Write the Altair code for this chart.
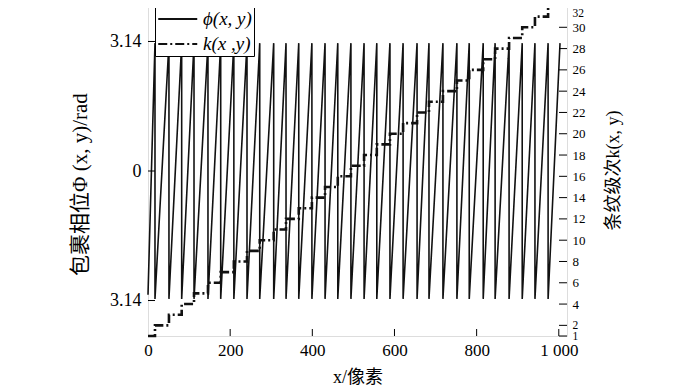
import altair as alt
import pandas as pd

# ---- data ----
# x positions (pixel index) where the wrapped phase drops from +pi to -pi
drop_x = [17, 51, 82, 112, 146, 177, 209, 241, 272, 306, 336, 367, 399, 431, 462,
          494, 526, 557, 589, 621, 655, 684, 718, 752, 782, 816, 845, 879, 911, 942, 974]
phase_top = 3.1
phase_bottom = -3.1
phase_start = [0, -3.0]     # x, phase at the left edge
phase_end = [1003, 3.1]     # x, phase at the right end
k_start = 1
k_end_x = 1003

x_labels = [0, 200, 400, 600, 800, 1000]
x_ticks = [200, 400, 600, 800, 1000]
left_ticks = [-3.14, 0, 3.14]
right_ticks = [1, 2, 4, 6, 8, 10, 12, 14, 16, 18, 20, 22, 24, 26, 28, 30, 32]

PHI = "ϕ(x, y)"
KLAB = "k(x ,y)"

# ---- build tables ----
rows = []
o = 0
rows.append(dict(x=phase_start[0], v=phase_start[1], series=PHI, o=o)); o += 1
for d in drop_x:
    rows.append(dict(x=d, v=phase_top, series=PHI, o=o)); o += 1
    rows.append(dict(x=d, v=phase_bottom, series=PHI, o=o)); o += 1
rows.append(dict(x=phase_end[0], v=phase_end[1], series=PHI, o=o)); o += 1

k = k_start
rows.append(dict(x=0, v=k, series=KLAB, o=o)); o += 1
for d in drop_x:
    rows.append(dict(x=d, v=k, series=KLAB, o=o)); o += 1
    k += 1
    rows.append(dict(x=d, v=k, series=KLAB, o=o)); o += 1
rows.append(dict(x=k_end_x, v=k, series=KLAB, o=o)); o += 1
df = pd.DataFrame(rows)

FONT = "Liberation Serif, Noto Sans CJK SC"
W, H = 419, 330

xs = alt.Scale(domain=[0, 1020], nice=False, zero=False)
ys_phi = alt.Scale(domain=[-4, 4], nice=False, zero=False)
ys_k = alt.Scale(domain=[1, 32], nice=False, zero=False)

legend = alt.Legend(
    title=None, orient="none", legendX=7, legendY=0, direction="vertical",
    fillColor="white", strokeColor="black", padding=2,
    symbolType="M-1,0H3", symbolSize=380, symbolStrokeWidth=2,
    symbolStrokeColor="black", symbolFillColor="transparent",
    labelFont=FONT, labelFontSize=19, labelFontStyle="italic", labelColor="black",
    rowPadding=4, labelOffset=24,
)
color = alt.Color("series:N",
                  scale=alt.Scale(domain=[PHI, KLAB], range=["#111111", "#111111"]),
                  legend=legend)
dash = alt.StrokeDash("series:N",
                      scale=alt.Scale(domain=[PHI, KLAB], range=[[1, 0], [9, 3, 2, 3]]),
                      legend=legend)

x_axis = alt.Axis(values=x_labels, ticks=False, domain=False, grid=False,
                  labelExpr="datum.value == 1000 ? '1 000' : datum.label",
                  labelFont=FONT, labelFontSize=17, labelColor="black",
                  labelPadding=6, labelFlush=False,
                  title="x/像素", titleFont=FONT, titleFontSize=18,
                  titleFontWeight="normal", titleColor="black",
                  titlePadding=10)
left_axis = alt.Axis(values=left_ticks, ticks=False, domain=False, grid=False,
                     labelExpr="datum.value == 0 ? '0' : '3.14'",
                     labelFont=FONT, labelFontSize=18, labelColor="black",
                     labelPadding=7,
                     title="包裹相位Φ (x, y)/rad", titleFont=FONT, titleFontSize=21,
                     titleFontWeight="normal", titleColor="black",
                     titleAngle=270, titleAlign="center", titleBaseline="middle",
                     titleX=-68, titleY=178)
right_axis = alt.Axis(orient="right", values=right_ticks, ticks=False, domain=False,
                      grid=False, labelColor="black", labelPadding=5,
                      labelOverlap=False, labelFont=FONT,
                      labelFontSize={"condition": {"test": "datum.value <= 2 || datum.value == 32",
                                                   "value": 11.5},
                                     "value": 13},
                      labelBaseline={"condition": {"test": "datum.value == 32",
                                                   "value": "top"},
                                     "value": "middle"},
                      labelOffset={"condition": {"test": "datum.value == 32",
                                                 "value": 1},
                                   "value": 0},
                      title="条纹级次k(x, y)", titleFont=FONT, titleFontSize=18,
                      titleFontWeight="normal", titleColor="black",
                      titleAngle=270, titleAlign="center", titleBaseline="middle",
                      titleX=46, titleY=164)

phase_line = alt.Chart(df).transform_filter(alt.datum.series == PHI).mark_line(
    strokeWidth=1.6
).encode(
    x=alt.X("x:Q", scale=xs, axis=x_axis),
    y=alt.Y("v:Q", scale=ys_phi, axis=left_axis),
    color=color,
    strokeDash=dash,
    order="o:Q",
)

xt_df = pd.DataFrame({"t": x_ticks})
x_tick_marks = alt.Chart(xt_df).mark_rule(color="black", strokeWidth=1).encode(
    x=alt.X("t:Q", scale=xs, axis=x_axis),
    y=alt.value(H), y2=alt.value(H - 7),
)
lt_df = pd.DataFrame({"t": left_ticks})
left_tick_marks = alt.Chart(lt_df).mark_rule(color="black", strokeWidth=1).encode(
    y=alt.Y("t:Q", scale=ys_phi, axis=left_axis),
    x=alt.value(0), x2=alt.value(7),
)

k_line = alt.Chart(df).transform_filter(alt.datum.series == KLAB).mark_line(
    strokeWidth=2.6
).encode(
    x=alt.X("x:Q", scale=xs, axis=x_axis),
    y=alt.Y("v:Q", scale=ys_k, axis=right_axis),
    color=color,
    strokeDash=dash,
    order="o:Q",
)
rt_df = pd.DataFrame({"t": right_ticks})
right_tick_marks = alt.Chart(rt_df).mark_rule(color="black", strokeWidth=1).encode(
    y=alt.Y("t:Q", scale=ys_k, axis=right_axis),
    x=alt.value(W), x2=alt.value(W - 8),
)

left_group = alt.layer(phase_line, x_tick_marks, left_tick_marks)
right_group = alt.layer(k_line, right_tick_marks)

chart = alt.layer(left_group, right_group).resolve_scale(
    y="independent"
).properties(
    width=W, height=H,
    autosize=alt.AutoSizeParams(type="none"),
    padding={"left": 140, "top": -2, "right": 125, "bottom": 53},
).configure_view(
    stroke="black", strokeWidth=1
).configure(background="white")

chart.save("out.html", embed_options={"renderer": "svg", "actions": False})
